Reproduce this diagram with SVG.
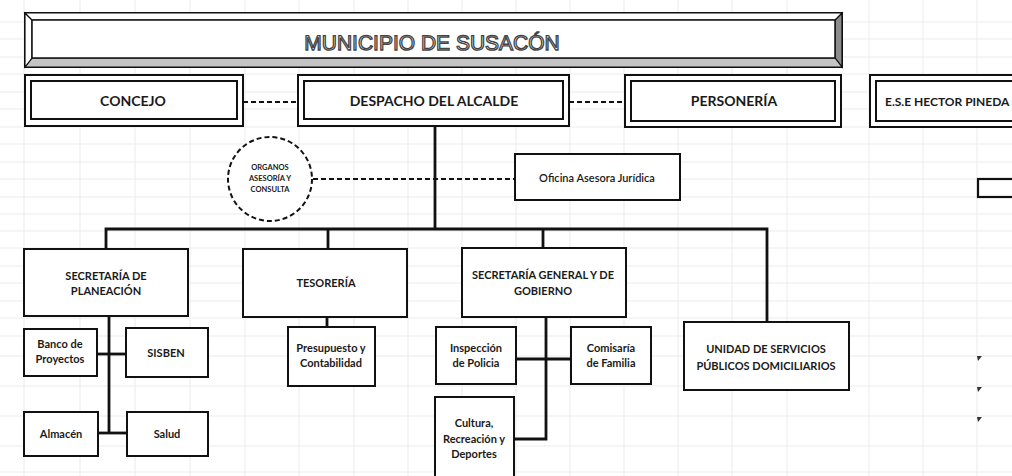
<svg xmlns="http://www.w3.org/2000/svg" width="1012" height="476" viewBox="0 0 1012 476">
<style>
.grid line{stroke:#ebebeb;stroke-width:1}
.box{fill:#fff;stroke:#111;stroke-width:2}
.dbl{fill:none;stroke:#111;stroke-width:2}
.t{font-family:Lato,"Open Sans","Liberation Sans",sans-serif;font-weight:bold;fill:#1a1a1a;text-anchor:middle}
.s{font-size:11px}
.m{font-size:14px}
.tree{stroke:#111;stroke-width:2.8;fill:none}
.dash{stroke:#111;stroke-width:2;stroke-dasharray:5 3;fill:none}
</style>
<rect width="1012" height="476" fill="#fff"/>
<g class="grid">
<line x1="24" y1="0" x2="24" y2="476"/><line x1="80" y1="0" x2="80" y2="476"/><line x1="135" y1="0" x2="135" y2="476"/><line x1="190" y1="0" x2="190" y2="476"/><line x1="245" y1="0" x2="245" y2="476"/><line x1="299" y1="0" x2="299" y2="476"/><line x1="354" y1="0" x2="354" y2="476"/><line x1="408" y1="0" x2="408" y2="476"/><line x1="462" y1="0" x2="462" y2="476"/><line x1="516" y1="0" x2="516" y2="476"/><line x1="570" y1="0" x2="570" y2="476"/><line x1="624" y1="0" x2="624" y2="476"/><line x1="678" y1="0" x2="678" y2="476"/><line x1="732" y1="0" x2="732" y2="476"/><line x1="787" y1="0" x2="787" y2="476"/><line x1="869" y1="0" x2="869" y2="476"/><line x1="923" y1="0" x2="923" y2="476"/><line x1="977" y1="0" x2="977" y2="476"/>
<line x1="0" y1="22" x2="1012" y2="22"/><line x1="0" y1="39" x2="1012" y2="39"/><line x1="0" y1="57" x2="1012" y2="57"/><line x1="0" y1="74" x2="1012" y2="74"/><line x1="0" y1="92" x2="1012" y2="92"/><line x1="0" y1="109" x2="1012" y2="109"/><line x1="0" y1="127" x2="1012" y2="127"/><line x1="0" y1="144" x2="1012" y2="144"/><line x1="0" y1="162" x2="1012" y2="162"/><line x1="0" y1="179" x2="1012" y2="179"/><line x1="0" y1="197" x2="1012" y2="197"/><line x1="0" y1="214" x2="1012" y2="214"/><line x1="0" y1="231" x2="1012" y2="231"/><line x1="0" y1="248" x2="1012" y2="248"/><line x1="0" y1="266" x2="1012" y2="266"/><line x1="0" y1="283" x2="1012" y2="283"/><line x1="0" y1="301" x2="1012" y2="301"/><line x1="0" y1="318" x2="1012" y2="318"/><line x1="0" y1="336" x2="1012" y2="336"/><line x1="0" y1="356" x2="1012" y2="356"/><line x1="0" y1="386" x2="1012" y2="386"/><line x1="0" y1="416" x2="1012" y2="416"/><line x1="0" y1="446" x2="1012" y2="446"/><line x1="0" y1="472" x2="1012" y2="472"/>
</g>

<g id="connectors">
<line class="dash" x1="243" y1="102" x2="298" y2="102"/>
<line class="dash" x1="569" y1="102" x2="625" y2="102"/>
<line class="dash" x1="313" y1="179" x2="515" y2="179"/>
<polyline class="tree" points="435,126 435,229"/>
<polyline class="tree" points="106,249 106,229 767,229 767,322"/>
<line class="tree" x1="328" y1="229" x2="328" y2="249"/>
<line class="tree" x1="543" y1="229" x2="543" y2="248"/>
<line class="tree" x1="109" y1="316" x2="109" y2="434"/>
<line class="tree" x1="97" y1="354" x2="126" y2="354"/>
<line class="tree" x1="98" y1="433" x2="127" y2="433"/>
<line class="tree" x1="327" y1="317" x2="327" y2="327"/>
<polyline class="tree" points="546,317 546,439 515,439"/>
<line class="tree" x1="516" y1="359" x2="571" y2="359"/>
</g>

<g id="title">
<rect x="25" y="13" width="817" height="54" fill="#fff" stroke="#111" stroke-width="2"/>
<polygon points="835,20 842,13 842,67 835,58" fill="#8c8c8c" stroke="#111" stroke-width="1.2"/>
<polygon points="32,58 835,58 842,67 25,67" fill="#c4c4c4" stroke="#111" stroke-width="1.2"/>
<polygon points="25,13 32,20 32,58 25,67" fill="#fff" stroke="#111" stroke-width="1.2"/>
<polygon points="25,13 842,13 835,20 32,20" fill="#fff" stroke="#111" stroke-width="1.2"/>
<rect x="32" y="20" width="803" height="38" fill="#fff" stroke="#111" stroke-width="1.5"/>
<text x="432" y="50" font-family="Liberation Sans,Arial,sans-serif" font-size="21" text-anchor="middle" fill="#fff" stroke="#444" stroke-width="1.3" style="text-rendering:geometricPrecision">MUNICIPIO DE SUSACÓN</text>
</g>

<g id="concejo">
<rect class="box" x="25" y="75" width="218" height="51"/>
<rect class="dbl" x="31" y="81" width="206" height="38"/>
<text class="t m" x="133" y="106">CONCEJO</text>
</g>
<g id="despacho">
<rect class="box" x="298" y="75" width="271" height="51"/>
<rect class="dbl" x="304" y="81" width="259" height="38"/>
<text class="t m" x="434" y="106">DESPACHO DEL ALCALDE</text>
</g>
<g id="personeria">
<rect class="box" x="625" y="75" width="216" height="52"/>
<rect class="dbl" x="631" y="81" width="204" height="40"/>
<text class="t m" x="734" y="106">PERSONERÍA</text>
</g>
<g id="ese">
<rect class="box" x="870" y="75" width="150" height="52"/>
<rect class="dbl" x="876" y="81" width="140" height="40"/>
<text class="t" x="885" y="106" font-size="12" style="text-anchor:start">E.S.E HECTOR PINEDA</text>
</g>

<g id="organos">
<circle cx="270" cy="179" r="42" fill="#fff" stroke="#111" stroke-width="2" stroke-dasharray="5 3"/>
<text class="t" x="270" y="170" font-size="7.5" fill="#444">ORGANOS</text>
<text class="t" x="270" y="181" font-size="7.5" fill="#444">ASESORÍA  Y</text>
<text class="t" x="270" y="192" font-size="7.5" fill="#444">CONSULTA</text>
</g>
<g id="oficina">
<rect class="box" x="515" y="154" width="165" height="46"/>
<text class="t s" x="597" y="182" style="font-weight:600">Oficina Asesora Jurídica</text>
</g>

<g id="planeacion">
<rect class="box" x="24" y="249" width="164" height="67"/>
<text class="t s" x="106" y="280">SECRETARÍA  DE</text>
<text class="t s" x="106" y="295">PLANEACIÓN</text>
</g>
<g id="banco">
<rect class="box" x="24" y="329" width="73" height="47"/>
<text class="t s" x="60" y="348">Banco de</text>
<text class="t s" x="60" y="363">Proyectos</text>
</g>
<g id="sisben">
<rect class="box" x="126" y="328" width="82" height="49"/>
<text class="t s" x="166" y="357">SISBEN</text>
</g>
<g id="almacen">
<rect class="box" x="24" y="412" width="74" height="44"/>
<text class="t s" x="61" y="438">Almacén</text>
</g>
<g id="salud">
<rect class="box" x="127" y="412" width="81" height="44"/>
<text class="t s" x="167" y="438">Salud</text>
</g>

<g id="tesoreria">
<rect class="box" x="243" y="249" width="164" height="68"/>
<text class="t s" x="326" y="287">TESORERÍA</text>
</g>
<g id="presupuesto">
<rect class="box" x="288" y="327" width="87" height="59"/>
<text class="t s" x="331" y="352">Presupuesto y</text>
<text class="t s" x="331" y="367">Contabilidad</text>
</g>

<g id="gobierno">
<rect class="box" x="462" y="248" width="164" height="69"/>
<text class="t s" x="543" y="279">SECRETARÍA  GENERAL Y DE</text>
<text class="t s" x="543" y="295">GOBIERNO</text>
</g>
<g id="inspeccion">
<rect class="box" x="436" y="327" width="80" height="57"/>
<text class="t s" x="476" y="352">Inspección</text>
<text class="t s" x="476" y="367">de Policia</text>
</g>
<g id="comisaria">
<rect class="box" x="571" y="327" width="80" height="57"/>
<text class="t s" x="611" y="352">Comisaría</text>
<text class="t s" x="611" y="367">de Familia</text>
</g>
<g id="cultura">
<rect class="box" x="435" y="397" width="79" height="85"/>
<text class="t s" x="474" y="427">Cultura,</text>
<text class="t s" x="474" y="443">Recreación y</text>
<text class="t s" x="474" y="458">Deportes</text>
</g>

<g id="unidad">
<rect class="box" x="684" y="322" width="165" height="68"/>
<text class="t s" x="766" y="353">UNIDAD DE SERVICIOS</text>
<text class="t s" x="766" y="370">PÚBLICOS DOMICILIARIOS</text>
</g>

<g id="cell">
<rect x="978" y="179" width="40" height="18" fill="#fff" stroke="#111" stroke-width="2.2"/>
<polygon points="977,356 982,356 978,361" fill="#333"/>
<polygon points="977,387 982,387 978,392" fill="#333"/>
<polygon points="977,417 982,417 978,422" fill="#333"/>
</g>
</svg>
